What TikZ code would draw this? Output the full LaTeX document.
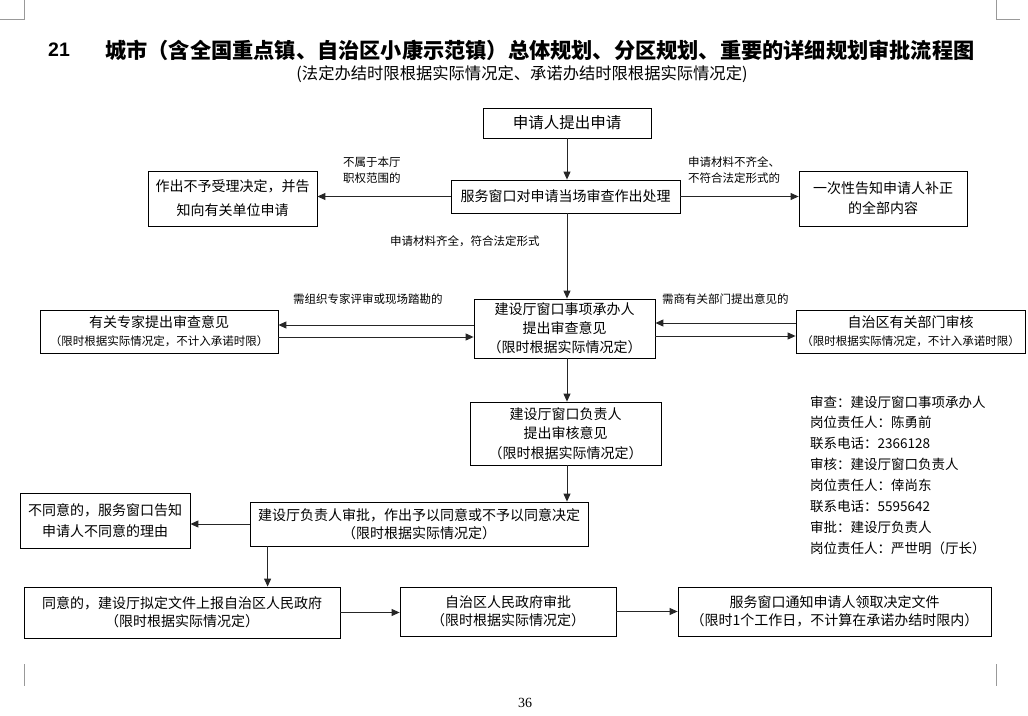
\documentclass[tikz,border=0pt]{standalone}
\usepackage{fontspec}
\setmainfont{Noto Sans CJK SC}
\newfontfamily\latinserif{Liberation Serif}
\newfontfamily\latinsans{Liberation Sans}
\usetikzlibrary{arrows.meta}
\begin{document}
\begin{tikzpicture}[x=1pt,y=-1pt,
  box/.style={draw=black, line width=0.8pt, inner sep=0pt, align=center, font=\fontsize{14}{19}\selectfont},
  arr/.style={draw=black!85, line width=0.9pt, -{Triangle[length=8pt,width=7pt]}},
  lbl/.style={inner sep=0pt, align=left, font=\fontsize{11.5}{16}\selectfont},
  cropmark/.style={draw=black!40, line width=0.8pt}]
\useasboundingbox (0,0) rectangle (1028,715);
% crop marks
\draw[cropmark] (24,0) -- (24,19) -- (0,19);
\draw[cropmark] (996,0) -- (996,19) -- (1020,19);
\draw[cropmark] (24,664) -- (24,686);
\draw[cropmark] (996,664) -- (996,686);
% title
\node[anchor=west, inner sep=0pt, font=\latinsans\bfseries\fontsize{19.5}{22}\selectfont] (num) at (48,50) {21};
\node[anchor=west, inner sep=0pt, font=\bfseries\fontsize{21.2}{24}\selectfont] (title) at (105,50) {城市（含全国重点镇、自治区小康示范镇）总体规划、分区规划、重要的详细规划审批流程图};
\node[inner sep=0pt, font=\fontsize{16.3}{18}\selectfont] (sub) at (522,74) {(法定办结时限根据实际情况定、承诺办结时限根据实际情况定)};
% boxes
\node[box, minimum width=168pt, minimum height=30pt, font=\fontsize{15.5}{19}\selectfont] (n1) at (567,123) {申请人提出申请};
\node[box, minimum width=229pt, minimum height=33pt] (n2) at (565.5,196.5) {服务窗口对申请当场审查作出处理};
\node[box, minimum width=169pt, minimum height=55pt, font=\fontsize{14}{24}\selectfont] (nL) at (232.5,198.5) {作出不予受理决定，并告\\知向有关单位申请};
\node[box, minimum width=168pt, minimum height=55pt, font=\fontsize{14}{20}\selectfont] (nR) at (883,198.5) {一次性告知申请人补正\\的全部内容};
\node[box, minimum width=181pt, minimum height=59pt] (n3) at (564.5,328.5) {建设厅窗口事项承办人\\提出审查意见\\（限时根据实际情况定）};
\node[box, minimum width=238pt, minimum height=43pt, font=\fontsize{14}{18}\selectfont] (nE) at (159,331.5) {有关专家提出审查意见\\{\fontsize{11.5}{18}\selectfont（限时根据实际情况定，不计入承诺时限）}};
\node[box, minimum width=229pt, minimum height=43pt, font=\fontsize{14}{18}\selectfont] (nD) at (910.5,331.5) {自治区有关部门审核\\{\fontsize{11.5}{18}\selectfont（限时根据实际情况定，不计入承诺时限）}};
\node[box, minimum width=191pt, minimum height=63pt, font=\fontsize{14}{19.5}\selectfont] (n4) at (565.5,433.5) {建设厅窗口负责人\\提出审核意见\\（限时根据实际情况定）};
\node[box, minimum width=338pt, minimum height=44pt, font=\fontsize{14}{18}\selectfont] (n5) at (419,524) {建设厅负责人审批，作出予以同意或不予以同意决定\\（限时根据实际情况定）};
\node[box, minimum width=170pt, minimum height=55pt, font=\fontsize{14}{21}\selectfont] (nN) at (105,520.5) {不同意的，服务窗口告知\\申请人不同意的理由};
\node[box, minimum width=316pt, minimum height=51pt, font=\fontsize{14}{18}\selectfont] (b1) at (182,612.5) {同意的，建设厅拟定文件上报自治区人民政府\\（限时根据实际情况定）};
\node[box, minimum width=216pt, minimum height=49pt, font=\fontsize{14}{18}\selectfont] (b2) at (508,611.5) {自治区人民政府审批\\（限时根据实际情况定）};
\node[box, minimum width=313pt, minimum height=49pt, font=\fontsize{14}{18}\selectfont] (b3) at (834.5,611.5) {服务窗口通知申请人领取决定文件\\（限时1个工作日，不计算在承诺办结时限内）};
% labels
\node[lbl, anchor=west] (l1) at (343,170) {不属于本厅\\职权范围的};
\node[lbl, anchor=west] (l2) at (688,170) {申请材料不齐全、\\不符合法定形式的};
\node[lbl, anchor=west] (l3) at (390,241) {申请材料齐全，符合法定形式};
\node[lbl, anchor=west] (l4) at (293,299) {需组织专家评审或现场踏勘的};
\node[lbl, anchor=west] (l5) at (662,299) {需商有关部门提出意见的};
% info block
\node[anchor=west, inner sep=0pt, align=left, font=\fontsize{13.5}{20.86}\selectfont] (info) at (810,475) {审查：建设厅窗口事项承办人\\岗位责任人：陈勇前\\联系电话：2366128\\审核：建设厅窗口负责人\\岗位责任人：倖尚东\\联系电话：5595642\\审批：建设厅负责人\\岗位责任人：严世明（厅长）};
% page number
\node[inner sep=0pt, font=\latinserif\fontsize{14}{16}\selectfont] (pg) at (525,703) {36};
% connectors
\draw[arr] (n1.south) -- (n1.south |- n2.north);
\draw[arr] (n2.west) -- (n2.west -| nL.east);
\draw[arr] (n2.east) -- (n2.east -| nR.west);
\draw[arr] (n1.south |- n2.south) -- (n1.south |- n3.north);
\draw[arr] ([yshift=3.5pt]n3.west) -- ([yshift=3.5pt]n3.west -| nE.east);
\draw[arr] ([yshift=-8.5pt]n3.west -| nE.east) -- ([yshift=-8.5pt]n3.west);
\draw[arr] ([yshift=5.5pt]n3.east -| nD.west) -- ([yshift=5.5pt]n3.east);
\draw[arr] ([yshift=-7.5pt]n3.east) -- ([yshift=-7.5pt]n3.east -| nD.west);
\draw[arr] (n1.south |- n3.south) -- (n1.south |- n4.north);
\draw[arr] (n1.south |- n4.south) -- (n1.south |- n5.north);
\draw[arr] (n5.west) -- (n5.west -| nN.east);
\draw[arr] ([xshift=18pt]n5.south west) -- ([xshift=18pt]n5.south west |- b1.north);
\draw[arr] (b1.east) -- (b1.east -| b2.west);
\draw[arr] (b2.east) -- (b2.east -| b3.west);
\end{tikzpicture}
\end{document}
